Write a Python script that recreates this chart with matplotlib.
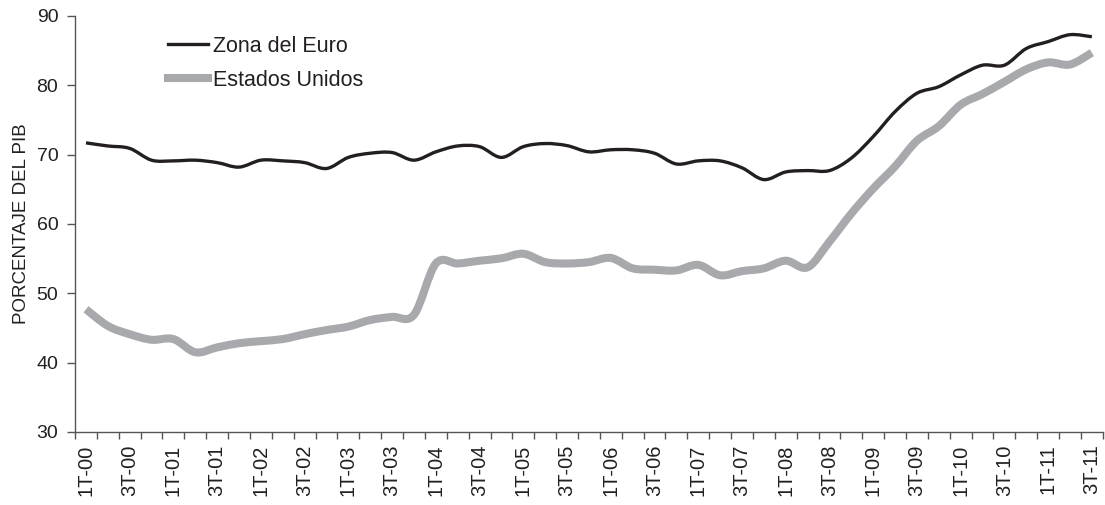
import matplotlib
matplotlib.use("Agg")
import matplotlib.pyplot as plt
from matplotlib.path import Path
from matplotlib.patches import PathPatch
from matplotlib.lines import Line2D

# trimestres 1T-00 .. 3T-11
trimestres = [f"{q}T-{a:02d}" for a in range(0, 12) for q in range(1, 5)][:47]

# Deuda publica, % del PIB
zona_euro = [71.7, 71.25, 70.9, 69.2, 69.1, 69.2, 68.85, 68.2, 69.2, 69.1,
             68.85, 68.0, 69.6, 70.2, 70.3, 69.2, 70.4, 71.25, 71.15, 69.6,
             71.15, 71.6, 71.3, 70.4, 70.7, 70.7, 70.2, 68.65, 69.1, 69.1,
             68.1, 66.4, 67.5, 67.7, 67.7, 69.5, 72.6, 76.2, 78.85, 79.8,
             81.5, 82.9, 82.9, 85.3, 86.3, 87.3, 87.0]
estados_unidos = [47.7, 45.3, 44.1, 43.3, 43.4, 41.5, 42.2, 42.8, 43.1, 43.4,
                  44.1, 44.7, 45.2, 46.15, 46.6, 46.9, 54.3, 54.3, 54.7, 55.05,
                  55.7, 54.5, 54.3, 54.5, 55.1, 53.6, 53.4, 53.3, 54.1, 52.6,
                  53.2, 53.6, 54.7, 53.75, 57.45, 61.5, 65.1, 68.3, 72.0, 74.1,
                  77.2, 78.75, 80.5, 82.3, 83.3, 83.0, 84.7]

plt.rcParams["font.family"] = ["Liberation Sans", "DejaVu Sans"]
texto = "#231f20"
negro = "#231f20"
gris = "#a7a9ac"


def curva_suave(xs, ys):
    # linea suavizada tipo Excel (bezier que pasa por cada punto)
    pts = list(zip(xs, ys))
    verts = [pts[0]]
    codes = [Path.MOVETO]
    n = len(pts)
    for i in range(n - 1):
        p0 = pts[max(i - 1, 0)]
        p1 = pts[i]
        p2 = pts[i + 1]
        p3 = pts[min(i + 2, n - 1)]
        c1 = (p1[0] + (p2[0] - p0[0]) / 6, p1[1] + (p2[1] - p0[1]) / 6)
        c2 = (p2[0] - (p3[0] - p1[0]) / 6, p2[1] - (p3[1] - p1[1]) / 6)
        verts += [c1, c2, p2]
        codes += [Path.CURVE4] * 3
    return Path(verts, codes)


fig = plt.figure(figsize=(11.05, 5.05), dpi=100)
ax = fig.add_axes([0.0679, 0.1446, 0.9301, 0.8238])

x = list(range(len(trimestres)))
ax.add_patch(PathPatch(curva_suave(x, estados_unidos), fill=False, edgecolor=gris,
                       lw=5.8, joinstyle="round", capstyle="butt", zorder=2))
ax.add_patch(PathPatch(curva_suave(x, zona_euro), fill=False, edgecolor=negro,
                       lw=2.4, joinstyle="round", capstyle="butt", zorder=3))

ax.set_xlim(-0.5, len(trimestres) - 0.5)
ax.set_ylim(30, 90)
ax.set_yticks(range(30, 91, 10))
ax.set_xticks(x[::2])
ax.set_xticklabels(trimestres[::2], rotation=90)
ax.set_xticks([i - 0.5 for i in range(len(trimestres) + 1)], minor=True)
ax.tick_params(axis="x", which="major", length=0, pad=9, labelsize=14.5, colors=texto)
ax.tick_params(axis="x", which="minor", length=5, width=1, color="#555555")
ax.tick_params(axis="y", length=6, width=1, color="#555555", labelsize=14,
               labelcolor=texto, pad=6)

for s in ["top", "right"]:
    ax.spines[s].set_visible(False)
for s in ["left", "bottom"]:
    ax.spines[s].set_color("#555555")
    ax.spines[s].set_linewidth(1)

ax.set_ylabel("PORCENTAJE DEL PIB", fontsize=13.5, color=texto, labelpad=5)

handles = [Line2D([], [], color=negro, lw=2.4), Line2D([], [], color=gris, lw=5.8)]
ax.legend(handles, ["Zona del Euro", "Estados Unidos"], loc="upper left",
          bbox_to_anchor=(0.0905, 0.953), frameon=False,
          fontsize=15.5, handlelength=1.86, handletextpad=0.25, labelspacing=0.62,
          borderpad=0, borderaxespad=0, labelcolor=texto)

fig.savefig("out.png", dpi=100)
